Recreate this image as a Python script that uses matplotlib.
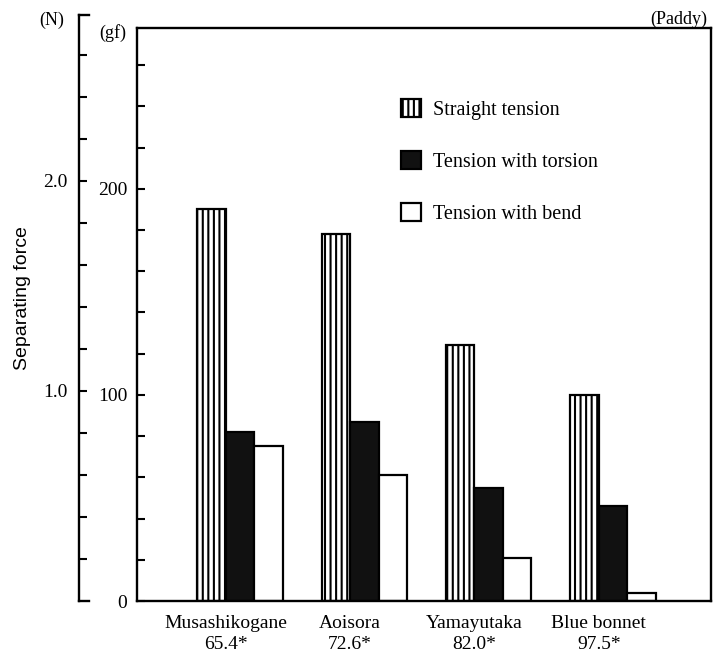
import matplotlib
matplotlib.use('Agg')
import matplotlib.pyplot as plt
import numpy as np
from matplotlib.patches import Patch

# ---- data ----
varieties = ['Musashikogane', 'Aoisora', 'Yamayutaka', 'Blue bonnet']
ratios = ['65.4*', '72.6*', '82.0*', '97.5*']
straight = [190, 178, 124, 100]   # gf
torsion = [82, 87, 55, 46]        # gf
bend = [75, 61, 21, 4]            # gf
series_names = ['Straight tension', 'Tension with torsion', 'Tension with bend']
gf_major = [0, 100, 200]
n_major = [1.0, 2.0]
GF_PER_N = 101.97

plt.rcParams['font.family'] = ['Liberation Serif', 'DejaVu Serif']
plt.rcParams['hatch.linewidth'] = 1.5

W, H = 713, 664
fig = plt.figure(figsize=(W / 100, H / 100), dpi=100)

# main axes (gf)
ax_l, ax_r, ax_b, ax_t = 137, 711, 601, 28
ax = fig.add_axes([ax_l / W, 1 - ax_b / H, (ax_r - ax_l) / W, (ax_b - ax_t) / H])
gf_top = 278
ax.set_ylim(0, gf_top)
px_per_gf = (ax_b - ax_t) / gf_top

x = np.arange(len(varieties))
w = 0.229
lw = 1.6
ax.bar(x - w, straight, w, facecolor='white', edgecolor='black', hatch='|||', linewidth=lw)
ax.bar(x, torsion, w, facecolor='#111111', edgecolor='black', linewidth=lw)
ax.bar(x + w, bend, w, facecolor='white', edgecolor='black', linewidth=lw)
ax.set_xlim(-0.829, 3.788)

ax.set_xticks(x - w / 2)
ax.set_xticklabels([f'{v}\n{r}' for v, r in zip(varieties, ratios)], fontsize=14,
                   linespacing=1.3)
ax.tick_params(axis='x', length=0, pad=10)

ax.set_yticks(gf_major)
ax.set_yticklabels([str(v) for v in gf_major], fontsize=14)
ax.set_yticks(np.arange(20, 280, 20), minor=True)
ax.tick_params(axis='y', which='both', direction='in', length=6, width=1.5, pad=7)
for s in ax.spines.values():
    s.set_linewidth(1.7)

# N axis (outer bracket)
n_x, n_top = 79, 15
nax = fig.add_axes([n_x / W, 1 - ax_b / H, 10 / W, (ax_b - n_top) / H])
nax.set_ylim(0, (ax_b - n_top) / px_per_gf / GF_PER_N)
nax.patch.set_visible(False)
nax.spines['right'].set_visible(False)
for k in ['left', 'top', 'bottom']:
    nax.spines[k].set_linewidth(1.7)
nax.set_xticks([])
nax.set_yticks(n_major)
nax.set_yticklabels([f'{v:.1f}' for v in n_major], fontsize=14)
nax.set_yticks(np.arange(0.2, 2.7, 0.2), minor=True)
nax.tick_params(axis='y', which='both', direction='in', length=6, width=1.5, pad=8)

# unit labels
fig.text(52 / W, 1 - 20 / H, '(N)', ha='center', va='center', fontsize=13)
fig.text(113 / W, 1 - 33 / H, '(gf)', ha='center', va='center', fontsize=13)
fig.text(707 / W, 1 - 19 / H, '(Paddy)', ha='right', va='center', fontsize=13)
fig.text(23 / W, 1 - 298 / H, 'Separating force', rotation=90, ha='center', va='center',
         fontsize=14, family=['Liberation Sans', 'DejaVu Sans'])

# legend
handles = [Patch(facecolor='white', edgecolor='black', hatch='|||', linewidth=lw),
           Patch(facecolor='#111111', edgecolor='black', linewidth=lw),
           Patch(facecolor='white', edgecolor='black', linewidth=lw)]
ax.legend(handles, series_names, loc='upper left', bbox_to_anchor=(401 / W, 1 - 99 / H),
          bbox_transform=fig.transFigure, frameon=False, fontsize=14.5,
          handlelength=1.0, handleheight=1.0, handletextpad=0.6, labelspacing=1.55,
          borderpad=0, borderaxespad=0)

fig.savefig('out.png', dpi=100)
